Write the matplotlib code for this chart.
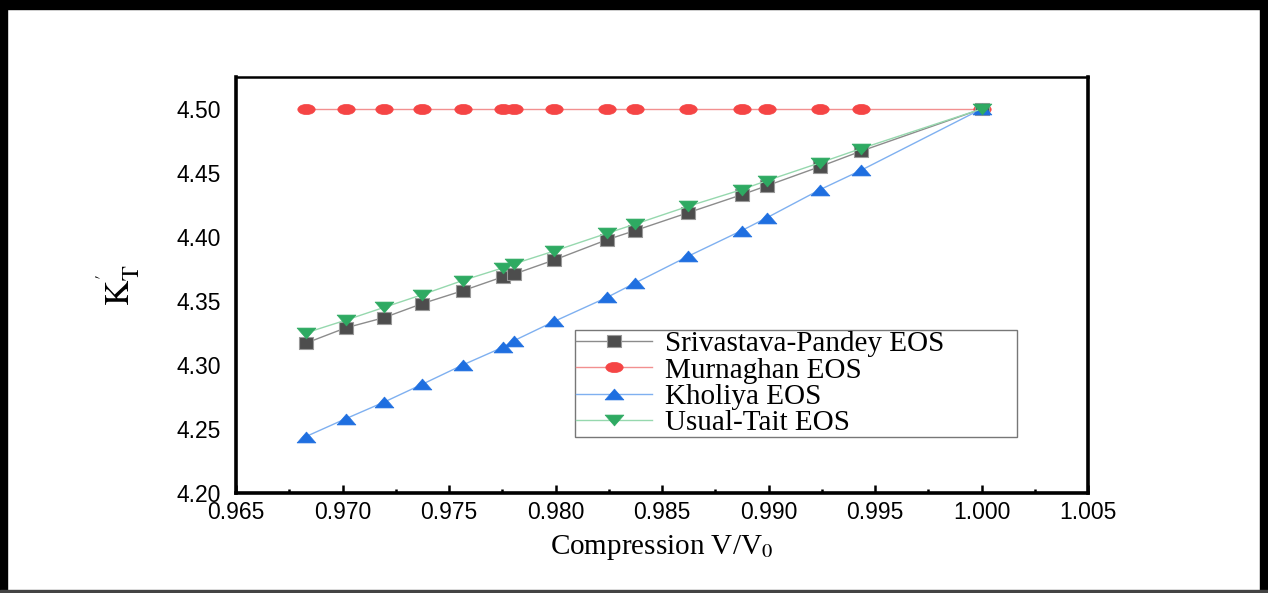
import matplotlib
matplotlib.use("Agg")
import matplotlib.pyplot as plt
from matplotlib.path import Path
from matplotlib.markers import MarkerStyle
from matplotlib.transforms import Affine2D
from matplotlib.patches import Rectangle
from matplotlib.ticker import MultipleLocator, FormatStrFormatter

# data
compression = [0.96827, 0.97015, 0.97195, 0.97375, 0.97564, 0.97755, 0.97805, 0.97993,
               0.98244, 0.98373, 0.98623, 0.98874, 0.98992, 0.99242, 0.99433, 1.0]
srivastava_pandey = [4.317, 4.329, 4.337, 4.348, 4.358, 4.369, 4.371, 4.382,
                     4.398, 4.405, 4.419, 4.433, 4.440, 4.455, 4.467, 4.500]
murnaghan = [4.50, 4.50, 4.50, 4.50, 4.50, 4.50, 4.50, 4.50,
             4.50, 4.50, 4.50, 4.50, 4.50, 4.50, 4.50, 4.50]
kholiya = [4.244, 4.258, 4.271, 4.285, 4.300, 4.314, 4.319, 4.334,
           4.353, 4.364, 4.385, 4.405, 4.415, 4.437, 4.452, 4.500]
usual_tait = [4.325, 4.335, 4.345, 4.355, 4.366, 4.376, 4.379, 4.389,
              4.403, 4.410, 4.424, 4.437, 4.444, 4.458, 4.469, 4.500]
labels = ["Srivastava-Pandey EOS", "Murnaghan EOS", "Kholiya EOS", "Usual-Tait EOS"]

plt.rcParams["mathtext.fontset"] = "stix"

# the original picture is stretched sideways, so the markers are too
square = MarkerStyle(Path([(-1.25, -1), (1.25, -1), (1.25, 1), (-1.25, 1), (-1.25, -1)], closed=True))
ellipse = MarkerStyle(Affine2D().scale(1.7, 1).transform_path(Path.unit_circle()))
tri_up = MarkerStyle(Path([(-9.5, -5.5), (9.5, -5.5), (0, 5.5), (-9.5, -5.5)], closed=True))
tri_down = MarkerStyle(Path([(-9.5, 5.5), (9.5, 5.5), (0, -5.5), (-9.5, 5.5)], closed=True))

fig = plt.figure(figsize=(12.68, 5.93), dpi=100)
ax = fig.add_axes([236 / 1268, 1 - 493 / 593, 852 / 1268, 416 / 593])

ax.plot(compression, srivastava_pandey, color="#8c8c8c", lw=1.0, marker=square, ms=10.5,
        mfc="#4d4d4d", mec="#9a9a9a", mew=0.8, label=labels[0], zorder=3)
ax.plot(compression, murnaghan, color="#f29090", lw=1.0, marker=ellipse, ms=12.5,
        mfc="#f54545", mec="#f54545", mew=0.5, label=labels[1], zorder=2)
ax.plot(compression, kholiya, color="#7fb0f0", lw=1.0, marker=tri_up, ms=13.5,
        mfc="#1f6fe0", mec="#1f6fe0", mew=0.5, label=labels[2], zorder=4)
ax.plot(compression, usual_tait, color="#96d8ae", lw=1.0, marker=tri_down, ms=13.5,
        mfc="#2eaa62", mec="#2eaa62", mew=0.5, label=labels[3], zorder=5)

ax.set_xlim(0.965, 1.005)
ax.set_ylim(4.20, 4.525)
ax.xaxis.set_major_locator(MultipleLocator(0.005))
ax.xaxis.set_minor_locator(MultipleLocator(0.0025))
ax.yaxis.set_major_locator(MultipleLocator(0.05))
ax.xaxis.set_major_formatter(FormatStrFormatter("%.3f"))
ax.yaxis.set_major_formatter(FormatStrFormatter("%.2f"))

ax.tick_params(axis="x", which="major", direction="in", length=6, width=1.8, pad=6)
ax.tick_params(axis="x", which="minor", direction="in", length=3, width=1.8)
ax.tick_params(axis="y", which="both", length=0, pad=11)
for lab in ax.get_xticklabels() + ax.get_yticklabels():
    lab.set_fontfamily("Liberation Sans")
    lab.set_fontsize(16.5)

for side in ["left", "bottom", "right"]:
    ax.spines[side].set_linewidth(2.6)
ax.spines["top"].set_linewidth(1.8)

ax.set_xlabel(r"Compression V/V$_0$", family="Liberation Serif", fontsize=21, labelpad=6)
ax.set_ylabel(r"$\mathrm{K}_\mathrm{T}^{'}$", fontsize=25, labelpad=24)

leg = ax.legend(loc="lower left", bbox_to_anchor=(0.398, 0.1346, 0.5187, 0.269), mode="expand",
                borderaxespad=0, fancybox=False, framealpha=1, edgecolor="#777777",
                prop={"family": "Liberation Serif", "size": 21}, labelspacing=0.0,
                handlelength=2.6, handletextpad=0.45, borderpad=0.02)
leg.get_frame().set_linewidth(1.0)

# black border round the whole picture
fig.patches.append(Rectangle((0, 1 - 9 / 593), 1, 9 / 593, transform=fig.transFigure, color="black"))
fig.patches.append(Rectangle((0, 0), 7 / 1268, 1, transform=fig.transFigure, color="black"))
fig.patches.append(Rectangle((1 - 8 / 1268, 0), 8 / 1268, 1, transform=fig.transFigure, color="black"))
fig.patches.append(Rectangle((0, 0), 1, 3 / 593, transform=fig.transFigure, color="#444444"))

fig.savefig("out.png", dpi=100)
